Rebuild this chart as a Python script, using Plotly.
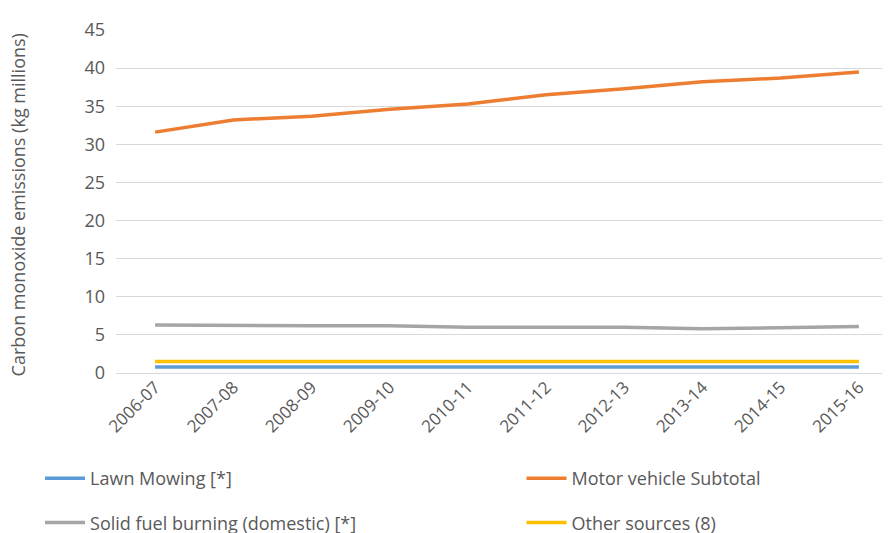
import plotly.graph_objects as go

# financial years on the x axis
years = ['2006-07', '2007-08', '2008-09', '2009-10', '2010-11',
         '2011-12', '2012-13', '2013-14', '2014-15', '2015-16']

# carbon monoxide emissions, kg millions
lawn_mowing = [0.8, 0.8, 0.8, 0.8, 0.8, 0.8, 0.8, 0.8, 0.8, 0.8]
motor_vehicle = [31.6, 33.2, 33.7, 34.6, 35.3, 36.5, 37.3, 38.2, 38.7, 39.5]
solid_fuel = [6.3, 6.2, 6.2, 6.2, 6.0, 6.0, 6.0, 5.8, 6.0, 6.1]
other_sources = [1.5, 1.5, 1.5, 1.5, 1.5, 1.5, 1.5, 1.5, 1.5, 1.5]

# (name, values, colour, which legend column)
series = [
    ('Lawn Mowing [*]', lawn_mowing, '#5b9bd5', 'legend'),
    ('Motor vehicle Subtotal', motor_vehicle, '#ed7d31', 'legend2'),
    ('Solid fuel burning (domestic) [*]', solid_fuel, '#a5a5a5', 'legend'),
    ('Other sources (8)', other_sources, '#ffc000', 'legend2'),
]

y_title = 'Carbon monoxide emissions (kg millions)'

font_family = 'Open Sans, Liberation Sans, sans-serif'
text_grey = '#595959'

fig = go.Figure()
for name, values, colour, leg in series:
    fig.add_trace(go.Scatter(
        x=years, y=values, name=name, mode='lines',
        line=dict(color=colour, width=3.5),
        legend=leg, legendgroup=name,
    ))

legend_style = dict(
    orientation='v', xref='container', yref='container',
    yanchor='top', xanchor='left', y=0.152,
    font=dict(size=18, color=text_grey),
    traceorder='grouped', tracegroupgap=18, itemwidth=40,
    bgcolor='rgba(0,0,0,0)',
)

# y axis title as an annotation (axis title misplaces with fixed margins)
fig.add_annotation(
    text=y_title, textangle=-90, showarrow=False,
    xref='paper', yref='paper', x=-0.126, y=0.49,
    xanchor='center', yanchor='middle',
    font=dict(size=18, color=text_grey),
)

fig.update_layout(
    width=890, height=533,
    margin=dict(l=108, r=0, t=22, b=168, autoexpand=False),
    plot_bgcolor='white', paper_bgcolor='white',
    font=dict(family=font_family, color=text_grey),
    showlegend=True,
    legend=dict(legend_style, x=0.036),
    legend2=dict(legend_style, x=0.577),
    xaxis=dict(
        type='category', range=[-0.5, len(years) - 0.5],
        tickangle=-45, tickfont=dict(size=17, color=text_grey),
        showgrid=False, showline=False, ticks='',
    ),
    yaxis=dict(
        range=[0, 45], dtick=5,
        tickfont=dict(size=18, color=text_grey),
        gridcolor='#d9d9d9', gridwidth=1,
        zeroline=True, zerolinecolor='#d9d9d9', zerolinewidth=1,
        ticks='', ticklabelstandoff=10,
    ),
)

fig.write_html('out.html')
